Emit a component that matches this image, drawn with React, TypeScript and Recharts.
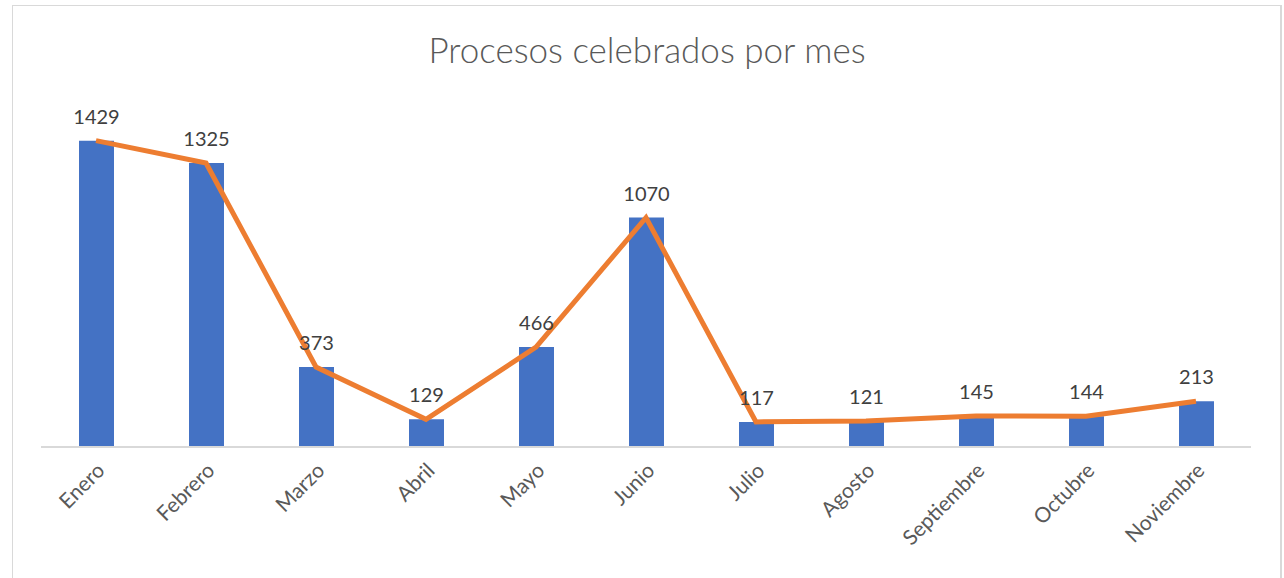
import { ComposedChart, Bar, Line, XAxis, YAxis, LabelList } from 'recharts';

const meses = ['Enero', 'Febrero', 'Marzo', 'Abril', 'Mayo', 'Junio', 'Julio', 'Agosto', 'Septiembre', 'Octubre', 'Noviembre'];
const procesos = [1429, 1325, 373, 129, 466, 1070, 117, 121, 145, 144, 213];

const data = meses.map((mes, i) => ({ mes, valor: procesos[i] }));

const FONT = 'Lato, "Open Sans", sans-serif';

const MesTick = (props: any) => {
  const { x, y, payload } = props;
  return (
    <g transform={`translate(${x + 5},${y + 12})`}>
      <text transform="rotate(-45)" textAnchor="end" fontSize={21} fill="#595959" fontFamily={FONT} dy={7}>
        {payload.value}
      </text>
    </g>
  );
};

function App() {
  return (
    <div style={{ position: 'absolute', left: 0, top: 0, width: 1284, height: 578, background: '#fff', overflow: 'hidden' }}>
      <div style={{ position: 'absolute', left: 12, top: 5, width: 1267, height: 600, border: '1px solid #d9d9d9', borderRightWidth: 2 }} />
      <div style={{ position: 'absolute', left: 0, width: 1294, top: 28, textAlign: 'center', fontFamily: FONT, fontSize: 35, color: '#595959', fontWeight: 300 }}>
        Procesos celebrados por mes
      </div>
      <div style={{ position: 'absolute', left: 0, top: 0 }}>
        <ComposedChart width={1284} height={578} data={data} margin={{ top: 104, right: 33, left: 41, bottom: 0 }}>
          <XAxis dataKey="mes" height={131} interval={0} tick={<MesTick />} tickLine={false} axisLine={{ stroke: '#d9d9d9', strokeWidth: 2 }} />
          <YAxis hide domain={[0, 1600]} />
          <Bar dataKey="valor" fill="#4472C4" barSize={35} isAnimationActive={false}>
            <LabelList dataKey="valor" position="top" offset={17} fill="#404040" fontSize={20} fontFamily={FONT} />
          </Bar>
          <Line dataKey="valor" type="linear" stroke="#ED7D31" strokeWidth={5} dot={false} isAnimationActive={false} />
        </ComposedChart>
      </div>
    </div>
  );
}

export default App;
